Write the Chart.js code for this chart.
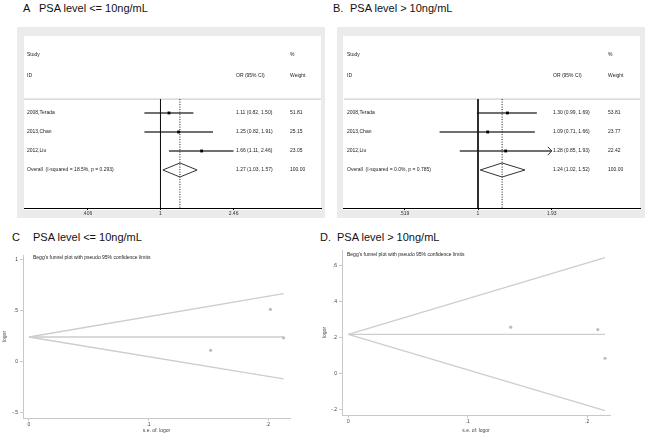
<!DOCTYPE html>
<html>
<head>
<meta charset="utf-8">
<script src="https://cdn.jsdelivr.net/npm/chart.js@4.4.1/dist/chart.umd.min.js"></script>
<style>
  body { margin: 0; background: #fff; font-family: "Liberation Sans", Arial, sans-serif; }
  #page { position: relative; width: 648px; height: 439px; overflow: hidden; background: #fff; }
  .title { position: absolute; font-size: 11px; line-height: 1; color: #111; white-space: pre; }
  canvas { position: absolute; }
  .forest { background: #ebebeb; }
</style>
</head>
<body>
<div id="page">
  <div class="title" style="left:23px; top:2.5px">A</div>
  <div class="title" style="left:39px; top:2.5px">PSA level &lt;= 10ng/mL</div>
  <div class="title" style="left:333px; top:2.5px">B.</div>
  <div class="title" style="left:350px; top:2.5px">PSA level &gt; 10ng/mL</div>
  <div class="title" style="left:12px; top:232px">C</div>
  <div class="title" style="left:33px; top:232px">PSA level &lt;= 10ng/mL</div>
  <div class="title" style="left:320px; top:232px">D.</div>
  <div class="title" style="left:337px; top:232px">PSA level &gt; 10ng/mL</div>

  <canvas id="forestA" class="forest" width="308" height="191" style="left:17px; top:27px"></canvas>
  <canvas id="forestB" class="forest" width="308" height="191" style="left:337px; top:27px"></canvas>
  <canvas id="funnelC" width="320" height="189" style="left:0px; top:250px"></canvas>
  <canvas id="funnelD" width="328" height="194" style="left:320px; top:245px"></canvas>
</div>

<script>
const FONT = '"Liberation Sans", Arial, sans-serif';

// A: forest plot, PSA <= 10ng/mL
const aStudies = ["2008,Terada", "2013,Chan", "2012,Liu"];
const aOR = [1.11, 1.25, 1.66];
const aLow = [0.82, 0.82, 1.11];
const aHigh = [1.50, 1.91, 2.46];
const aWeight = ["51.81", "25.15", "23.05"];
const aOverall = [1.27, 1.03, 1.57]; // estimate, low, high
const aOverallLabel = "Overall  (I-squared = 18.5%, p = 0.293)";
const aTicks = [0.406, 1, 2.46];
const aTickLabels = [".406", "1", "2.46"];

// B: forest plot, PSA > 10ng/mL
const bStudies = ["2008,Terada", "2013,Chan", "2012,Liu"];
const bOR = [1.30, 1.09, 1.28];
const bLow = [0.99, 0.71, 0.85];
const bHigh = [1.69, 1.66, 1.93];
const bClipped = [false, false, true]; // CI runs past the axis -> arrow
const bWeight = ["53.81", "23.77", "22.42"];
const bOverall = [1.24, 1.02, 1.52];
const bOverallLabel = "Overall  (I-squared = 0.0%, p = 0.785)";
const bTicks = [0.519, 1, 1.93];
const bTickLabels = [".519", "1", "1.93"];

// C: Begg's funnel, PSA <= 10ng/mL
const cSe = [0.152, 0.202, 0.213];
const cLogor = [0.11, 0.51, 0.232];
const cPooled = 0.24;
const cLimitSe = 0.213;
const cUpper = 0.665;
const cLower = -0.17;
const cYTicks = [-0.5, 0, 0.5, 1];

// D: Begg's funnel, PSA > 10ng/mL
const dSe = [0.136, 0.209, 0.215];
const dLogor = [0.258, 0.245, 0.085];
const dPooled = 0.218;
const dLimitSe = 0.215;
const dUpper = 0.645;
const dLower = -0.206;
const dYTicks = [-0.2, 0, 0.2, 0.4, 0.6];

const seTicks = [0, 0.1, 0.2];
const beggTitle = "Begg's funnel plot with pseudo 95% confidence limits";

function seg(points, color, width, order) {
  return { data: points, showLine: true, borderColor: color, borderWidth: width, pointRadius: 0, fill: false, order: order || 0 };
}

function stataNum(v) {
  if (v === 0) return "0";
  return String(+v.toFixed(3)).replace("0.", ".");
}

function makeForest(id, d) {
  const n = d.studies.length;
  const ruleY = -0.73;
  const datasets = [];

  // higher order = drawn first (underneath)
  datasets.push(seg([{ x: d.xMin, y: ruleY }, { x: d.xMax, y: ruleY }], "#c4c4c4", 1, 9));
  datasets.push(seg([{ x: 1, y: ruleY }, { x: 1, y: 5 }], "#111", 1, 4));
  const dotted = seg([{ x: d.overall[0], y: ruleY }, { x: d.overall[0], y: 5 }], "#111", 1, 4);
  dotted.borderDash = [1, 1.5];
  datasets.push(dotted);

  d.or.forEach((v, i) => {
    datasets.push(seg([{ x: d.low[i], y: i }, { x: d.high[i], y: i }], "#707070", 2, 6));
    if (d.clipped && d.clipped[i]) {
      const back = d.high[i] * Math.exp(-0.035);
      datasets.push(seg([{ x: back, y: i - 0.22 }, { x: d.high[i], y: i }, { x: back, y: i + 0.22 }], "#333", 1, 5));
    }
  });

  datasets.push({
    data: d.or.map((v, i) => ({ x: v, y: i })),
    showLine: false,
    pointStyle: "rect",
    pointRadius: 2,
    backgroundColor: "#000",
    borderColor: "#000",
    borderWidth: 0,
    order: 0
  });

  const [est, lo, hi] = d.overall;
  datasets.push(seg([{ x: lo, y: n }, { x: est, y: n - 0.37 }, { x: hi, y: n }, { x: est, y: n + 0.37 }, { x: lo, y: n }], "#333", 1, 1));

  const textPlugin = {
    id: "forestText",
    beforeDraw(chart) {
      const { ctx, chartArea: a } = chart;
      ctx.save();
      ctx.fillStyle = "#fff";
      ctx.fillRect(a.left, a.top, a.right - a.left, a.bottom - a.top + 2);
      ctx.restore();
    },
    afterDatasetsDraw(chart) {
      const { ctx, chartArea: a } = chart;
      const ys = chart.scales.y;
      ctx.save();
      ctx.font = "5px " + FONT;
      ctx.fillStyle = "#222";
      ctx.textBaseline = "middle";
      const xs = a.left + d.colStudy, xo = a.left + d.colOR, xw = a.left + d.colWeight;
      ctx.fillText("Study", xs, ys.getPixelForValue(-3.07));
      ctx.fillText("ID", xs, ys.getPixelForValue(-1.99));
      ctx.fillText("OR (95% CI)", xo, ys.getPixelForValue(-1.99));
      ctx.fillText("%", xw, ys.getPixelForValue(-3.07));
      ctx.fillText("Weight", xw, ys.getPixelForValue(-1.99));
      d.studies.forEach((s, i) => {
        const y = ys.getPixelForValue(i);
        ctx.fillText(s, xs, y);
        ctx.fillText(d.or[i].toFixed(2) + " (" + d.low[i].toFixed(2) + ", " + d.high[i].toFixed(2) + ")", xo, y);
        ctx.fillText(d.weight[i], xw, y);
      });
      const yo = ys.getPixelForValue(n);
      ctx.fillText(d.overallLabel, xs, yo);
      ctx.fillText(est.toFixed(2) + " (" + lo.toFixed(2) + ", " + hi.toFixed(2) + ")", xo, yo);
      ctx.fillText("100.00", xw, yo);
      ctx.restore();
    }
  };

  return new Chart(document.getElementById(id), {
    type: "scatter",
    data: { datasets: datasets },
    options: {
      responsive: false,
      animation: false,
      events: [],
      layout: { padding: d.padding },
      plugins: { legend: { display: false }, tooltip: { enabled: false } },
      scales: {
        x: {
          type: "logarithmic",
          min: d.xMin,
          max: d.xMax,
          border: { color: "#000", width: 1 },
          grid: { drawOnChartArea: false, drawTicks: true, tickLength: 2, color: "#000" },
          ticks: {
            font: { size: 5, family: FONT },
            color: "#333",
            padding: 1,
            autoSkip: false,
            maxRotation: 0,
            callback: (v, i) => d.tickLabels[i]
          },
          afterBuildTicks: (s) => { s.ticks = d.ticks.map((v) => ({ value: v })); },
          afterFit: (s) => { s.height = 10; }
        },
        y: { type: "linear", display: false, reverse: true, min: -4.05, max: 5 }
      }
    },
    plugins: [textPlugin]
  });
}

function makeFunnel(id, d) {
  const fl = (pts) => seg(pts, "#cdcdcd", 1.3, 2);
  const titlePlugin = {
    id: "beggTitle",
    afterDatasetsDraw(chart) {
      const { ctx, chartArea: a } = chart;
      ctx.save();
      ctx.font = "5px " + FONT;
      ctx.fillStyle = "#222";
      ctx.textBaseline = "middle";
      ctx.fillText(beggTitle, a.left + d.titleDx, a.top + d.titleDy);
      ctx.restore();
    }
  };
  return new Chart(document.getElementById(id), {
    type: "scatter",
    data: {
      datasets: [
        fl([{ x: 0, y: d.pooled }, { x: d.limitSe, y: d.upper }]),
        fl([{ x: 0, y: d.pooled }, { x: d.limitSe, y: d.pooled }]),
        fl([{ x: 0, y: d.pooled }, { x: d.limitSe, y: d.lower }]),
        {
          data: d.se.map((s, i) => ({ x: s, y: d.logor[i] })),
          showLine: false,
          pointStyle: "circle",
          pointRadius: 1.6,
          backgroundColor: "#bdbdbd",
          borderColor: "#bdbdbd",
          borderWidth: 0,
          order: 0
        }
      ]
    },
    options: {
      responsive: false,
      animation: false,
      events: [],
      layout: { padding: d.padding },
      plugins: { legend: { display: false }, tooltip: { enabled: false } },
      scales: {
        x: {
          type: "linear",
          min: d.xMin,
          max: d.xMax,
          border: { color: "#c8c8c8", width: 1 },
          grid: { drawOnChartArea: false, drawTicks: true, tickLength: 3, color: "#c8c8c8" },
          ticks: { font: { size: 5, family: FONT }, color: "#444", padding: 1, maxRotation: 0, callback: (v) => stataNum(v) },
          afterBuildTicks: (s) => { s.ticks = seTicks.map((v) => ({ value: v })); },
          title: { display: true, text: "s.e. of: logor", font: { size: 5, family: FONT }, color: "#444", padding: { top: 0, bottom: 5 } },
          afterFit: (s) => { s.height = d.xHeight; }
        },
        y: {
          type: "linear",
          min: d.yMin,
          max: d.yMax,
          border: { color: "#c8c8c8", width: 1 },
          grid: { drawOnChartArea: false, drawTicks: true, tickLength: 3, color: "#c8c8c8" },
          ticks: { font: { size: 5, family: FONT }, color: "#444", padding: 2, callback: (v) => stataNum(v) },
          afterBuildTicks: (s) => { s.ticks = d.yTicks.map((v) => ({ value: v })); },
          title: { display: true, text: "logor", font: { size: 5, family: FONT }, color: "#444", padding: { top: 2, bottom: 0 } },
          afterFit: (s) => { s.width = d.yWidth; }
        }
      }
    },
    plugins: [titlePlugin]
  });
}

makeForest("forestA", {
  studies: aStudies, or: aOR, low: aLow, high: aHigh, weight: aWeight,
  overall: aOverall, overallLabel: aOverallLabel, ticks: aTicks, tickLabels: aTickLabels,
  xMin: 0.1861, xMax: 7.223,
  colStudy: 3, colOR: 212, colWeight: 266,
  padding: { left: 7, top: 9, right: 4, bottom: 0 }
});

makeForest("forestB", {
  studies: bStudies, or: bOR, low: bLow, high: bHigh, weight: bWeight, clipped: bClipped,
  overall: bOverall, overallLabel: bOverallLabel, ticks: bTicks, tickLabels: bTickLabels,
  xMin: 0.3025, xMax: 4.24,
  colStudy: 4, colOR: 210, colWeight: 265,
  padding: { left: 6, top: 9, right: 5, bottom: 0 }
});

makeFunnel("funnelC", {
  se: cSe, logor: cLogor, pooled: cPooled, limitSe: cLimitSe, upper: cUpper, lower: cLower,
  yTicks: cYTicks, xMin: -0.005, xMax: 0.2184, yMin: -0.552, yMax: 1.042,
  yWidth: 23, xHeight: 21, titleDx: 10, titleDy: 3,
  padding: { left: 0, top: 5, right: 30, bottom: 0 }
});

makeFunnel("funnelD", {
  se: dSe, logor: dLogor, pooled: dPooled, limitSe: dLimitSe, upper: dUpper, lower: dLower,
  yTicks: dYTicks, xMin: -0.0053, xMax: 0.2192, yMin: -0.231, yMax: 0.688,
  yWidth: 22, xHeight: 24, titleDx: 5, titleDy: 5,
  padding: { left: 0, top: 3, right: 38, bottom: 0 }
});
</script>
</body>
</html>
